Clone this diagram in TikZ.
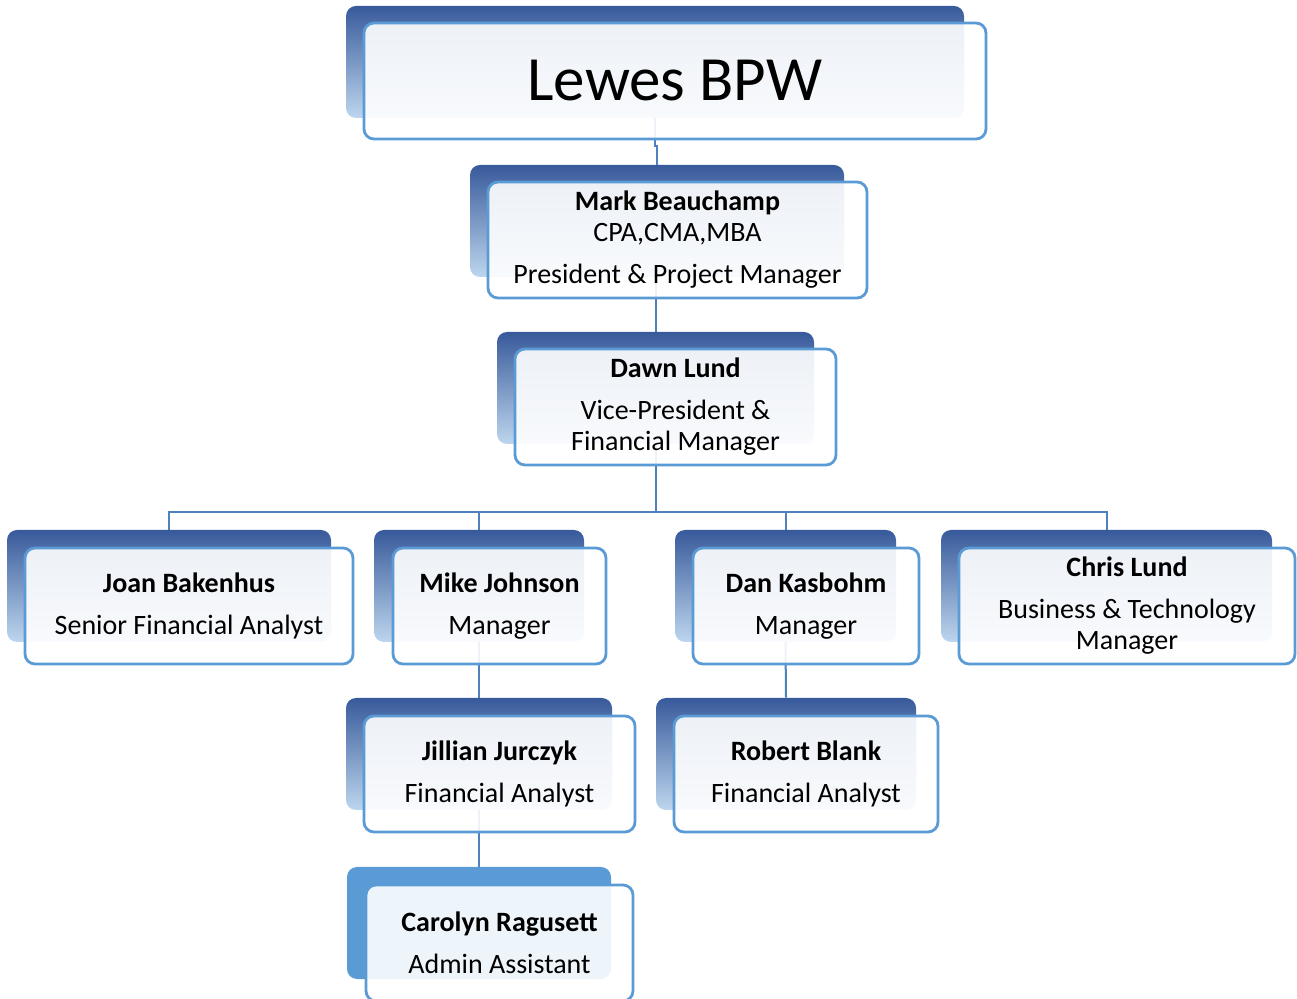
\documentclass[tikz,border=0pt]{standalone}
\usepackage{fontspec}
\setmainfont{Carlito}
\usetikzlibrary{backgrounds}

\definecolor{backtop}{RGB}{56,90,155}
\definecolor{backbot}{RGB}{189,214,238}
\definecolor{accent}{RGB}{91,155,213}
\definecolor{linkblue}{RGB}{79,129,189}

\tikzset{
  backbox/.style={rounded corners=5pt, top color=backtop, bottom color=backbot,
    minimum height=56pt, inner sep=0pt},
  backflat/.style={rounded corners=5pt, fill=accent, minimum height=56pt, inner sep=0pt},
  frontbox/.style={draw=accent, line width=1.4pt, rounded corners=5pt, fill=white,
    fill opacity=0.9, text opacity=1, minimum height=58pt, inner sep=0pt,
    align=center, font=\fontsize{14}{15.5}\selectfont},
  link/.style={draw=linkblue, line width=1pt}
}

\begin{document}
\begin{tikzpicture}[x=0.5pt,y=-0.5pt]
\useasboundingbox (0,0) rectangle (1297,999);

% Top box
\node[backbox, minimum width=309pt] (lewesB) at (655,62) {};
\node[frontbox, minimum width=311pt, font=\fontsize{31.5}{38}\selectfont] (lewes) at (675,81) {Lewes BPW};

% President
\node[backbox, minimum width=187pt] (markB) at (657,221) {};
\node[frontbox, minimum width=189.5pt] (mark) at (677.5,240)
  {\textbf{Mark Beauchamp}\\CPA,CMA,MBA\\[5.5pt]President \& Project Manager};

% Vice-president
\node[backbox, minimum width=158.5pt] (dawnB) at (655.5,388) {};
\node[frontbox, minimum width=160.5pt] (dawn) at (675.5,407)
  {\textbf{Dawn Lund}\\[5.5pt]Vice-President \&\\Financial Manager};

% Second row
\node[backbox, minimum width=162pt] (joanB) at (169,586) {};
\node[frontbox, minimum width=164pt] (joan) at (189,606)
  {\textbf{Joan Bakenhus}\\[5.5pt]Senior Financial Analyst};

\node[backbox, minimum width=105pt] (mikeB) at (479,586) {};
\node[frontbox, minimum width=106.5pt] (mike) at (499.5,606)
  {\textbf{Mike Johnson}\\[5.5pt]Manager};

\node[backbox, minimum width=110.5pt] (danB) at (785.5,586) {};
\node[frontbox, minimum width=113pt] (dan) at (806,606)
  {\textbf{Dan Kasbohm}\\[5.5pt]Manager};

\node[backbox, minimum width=165.5pt] (chrisB) at (1106.5,586) {};
\node[frontbox, minimum width=168pt] (chris) at (1127,606)
  {\textbf{Chris Lund}\\[5.5pt]Business \& Technology\\Manager};

% Third row
\node[backbox, minimum width=133pt] (jillB) at (479,754) {};
\node[frontbox, minimum width=135.5pt] (jill) at (499.5,774)
  {\textbf{Jillian Jurczyk}\\[5.5pt]Financial Analyst};

\node[backbox, minimum width=130pt] (robertB) at (786,754) {};
\node[frontbox, minimum width=132pt] (robert) at (806,774)
  {\textbf{Robert Blank}\\[5.5pt]Financial Analyst};

% Bottom box
\node[backflat, minimum width=132pt] (carolB) at (479,923) {};
\node[frontbox, minimum width=133.5pt] (carol) at (499.5,943)
  {\textbf{Carolyn Ragusett}\\[5.5pt]Admin Assistant};

% Connectors behind the boxes
\begin{pgfonlayer}{background}
\draw[link] (lewesB.south) -- ++(0,28) -| (markB.north);
\draw[link] (markB.south) -| (dawnB.north);
\coordinate (split) at (655.5,512);
\draw[link] (dawnB.south) -- (split);
\foreach \c in {joanB,mikeB,danB,chrisB}
  \draw[link] (split) -| (\c.north);
\draw[link] (mikeB.south) -- (jillB.north);
\draw[link] (jillB.south) -- (carolB.north);
\draw[link] (danB.south) -- (robertB.north);
\end{pgfonlayer}

\end{tikzpicture}
\end{document}
